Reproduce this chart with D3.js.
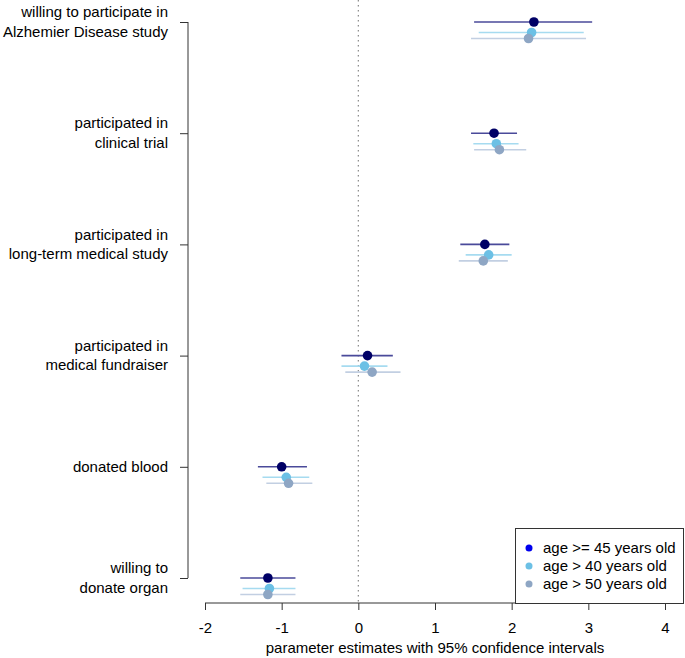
<!DOCTYPE html>
<html><head><meta charset="utf-8">
<script src="https://cdn.jsdelivr.net/npm/d3@7"></script>
<style>body{margin:0;background:#fff}svg{display:block}text{font-family:"Liberation Sans",Arial,sans-serif;fill:#000}</style>
</head><body><svg id="c" width="685" height="658"></svg>
<script>
const categories = [
  ["willing to participate in","Alzhemier Disease study"],
  ["participated in","clinical trial"],
  ["participated in","long-term medical study"],
  ["participated in","medical fundraiser"],
  ["donated blood"],
  ["willing to","donate organ"]
];
const seriesNames = ["age >= 45 years old","age > 40 years old","age > 50 years old"];
// estimates per series, per category
const est45 = [2.29, 1.77, 1.65, 0.12, -1.00, -1.18];
const lo45  = [1.51, 1.47, 1.33, -0.22, -1.31, -1.54];
const hi45  = [3.05, 2.07, 1.97, 0.45, -0.67, -0.82];
const est40 = [2.26, 1.80, 1.70, 0.08, -0.94, -1.16];
const lo40  = [1.57, 1.50, 1.40, -0.22, -1.25, -1.51];
const hi40  = [2.94, 2.09, 2.00, 0.38, -0.64, -0.82];
const est50 = [2.22, 1.84, 1.63, 0.18, -0.91, -1.18];
const lo50  = [1.47, 1.51, 1.31, -0.17, -1.20, -1.54];
const hi50  = [2.97, 2.19, 1.95, 0.55, -0.60, -0.82];
const xTicks = [-2,-1,0,1,2,3,4];

const pointColors = ["#000066","#6cc0e5","#8ea6c4"];
const lineColors  = ["#4a4a9a","#a6dbf0","#c2cfe2"];
const legendColors = ["#0000ee","#6cc0e5","#8ea6c4"];
const offsets = [0, 10.5, 16.5];

const series = [
  {est:est45, lo:lo45, hi:hi45},
  {est:est40, lo:lo40, hi:hi40},
  {est:est50, lo:lo50, hi:hi50}
];

const svg = d3.select("#c");
const x = d3.scaleLinear().domain([-2,4]).range([205,665]);
const y = d3.scalePoint().domain(d3.range(categories.length)).range([22,578]);

// zero line
svg.append("line").attr("x1",x(0)).attr("x2",x(0)).attr("y1",0).attr("y2",603)
  .attr("stroke","#888").attr("stroke-width",1.2).attr("stroke-dasharray","1.5,3.5");

// x axis
const xa = svg.append("g").attr("transform","translate(0,603)")
  .call(d3.axisBottom(x).tickValues(xTicks).tickSize(7).tickPadding(12).tickFormat(d=>String(d)));
xa.select(".domain").attr("stroke","#333").attr("d",`M${x(-2)},0H${x(4)}`);
xa.selectAll(".tick line").attr("stroke","#333");
xa.selectAll("text").attr("font-size",15).attr("font-family","Liberation Sans, Arial, sans-serif").attr("fill","#000");
svg.append("text").attr("x",(x(-2)+x(4))/2).attr("y",653).attr("text-anchor","middle")
  .attr("font-size",15).text("parameter estimates with 95% confidence intervals");

// y axis
const ya = svg.append("g").attr("transform","translate(188,0)")
  .call(d3.axisLeft(y).tickSize(8).tickFormat(""));
ya.select(".domain").attr("stroke","#333").attr("d",`M0,${y(0)}V${y(5)}`);
ya.selectAll(".tick line").attr("stroke","#333");
categories.forEach((lines,i)=>{
  const t = svg.append("text").attr("text-anchor","end").attr("font-size",15);
  const n = lines.length;
  lines.forEach((l,j)=>{
    t.append("tspan").attr("x",168).attr("y",y(i)+5+(j-(n-1)/2)*19.5).text(l);
  });
});

// intervals and points
series.forEach((s,k)=>{
  const g = svg.append("g");
  g.selectAll("line").data(categories.map((c,i)=>i)).join("line")
    .attr("x1",i=>x(s.lo[i])).attr("x2",i=>x(s.hi[i]))
    .attr("y1",i=>y(i)+offsets[k]).attr("y2",i=>y(i)+offsets[k])
    .attr("stroke",lineColors[k]).attr("stroke-width",1.6);
  g.selectAll("circle").data(categories.map((c,i)=>i)).join("circle")
    .attr("cx",i=>x(s.est[i])).attr("cy",i=>y(i)+offsets[k]).attr("r",4.8)
    .attr("fill",pointColors[k]);
});

// legend
const lg = svg.append("g");
lg.append("rect").attr("x",515.5).attr("y",528.5).attr("width",168).attr("height",75)
  .attr("fill","#fff").attr("stroke","#333").attr("stroke-width",1);
seriesNames.forEach((nm,k)=>{
  const yy = 548 + k*18;
  lg.append("circle").attr("cx",529).attr("cy",yy).attr("r",3.5).attr("fill",legendColors[k]);
  lg.append("text").attr("x",543).attr("y",yy+5).attr("font-size",15).text(nm);
});
</script></body></html>
